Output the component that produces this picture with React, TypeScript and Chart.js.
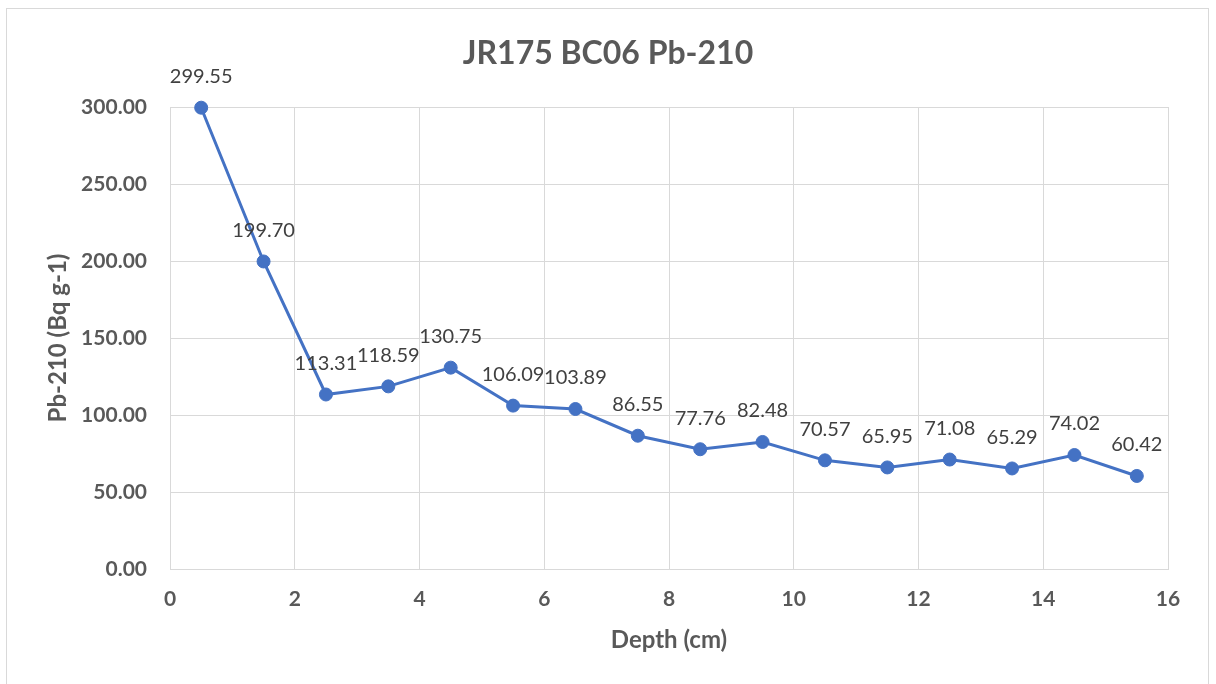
import React, { useEffect, useRef } from "react";
import { Chart, registerables } from "chart.js";

Chart.register(...registerables);

const depths = [0.5, 1.5, 2.5, 3.5, 4.5, 5.5, 6.5, 7.5, 8.5, 9.5, 10.5, 11.5, 12.5, 13.5, 14.5, 15.5];
const pb210 = [299.55, 199.7, 113.31, 118.59, 130.75, 106.09, 103.89, 86.55, 77.76, 82.48, 70.57, 65.95, 71.08, 65.29, 74.02, 60.42];
const chartTitle = "JR175 BC06 Pb-210";
const xTitle = "Depth (cm)";
const yTitle = "Pb-210 (Bq g-1)";

const FONT = "Lato";
const AXIS_COLOR = "#595959";
const GRID = "#d9d9d9";
const LINE = "#4472C4";

const frameAndLabels = {
  id: "frameAndLabels",
  beforeDraw(chart: any) {
    const ctx = chart.ctx;
    ctx.save();
    ctx.fillStyle = "#ffffff";
    ctx.fillRect(0, 0, chart.width, chart.height);
    ctx.strokeStyle = GRID;
    ctx.lineWidth = 1;
    ctx.strokeRect(6.5, 8.5, 1202, 700);
    ctx.restore();
  },
  afterDatasetsDraw(chart: any) {
    const ctx = chart.ctx;
    const meta = chart.getDatasetMeta(0);
    const data = chart.data.datasets[0].data as any[];
    ctx.save();
    ctx.font = `20px ${FONT}`;
    ctx.fillStyle = "#404040";
    ctx.textAlign = "center";
    ctx.textBaseline = "middle";
    meta.data.forEach((el: any, i: number) => {
      const v = data[i].y as number;
      ctx.fillText(v.toFixed(2), el.x, el.y - 31);
    });
    ctx.restore();
  },
};

export default function App() {
  const ref = useRef<HTMLCanvasElement | null>(null);
  useEffect(() => {
    document.body.style.margin = "0";
    const canvas = ref.current;
    if (!canvas) return;
    const chart = new Chart(canvas, {
      type: "scatter",
      data: {
        datasets: [
          {
            label: "Pb-210",
            data: depths.map((d, i) => ({ x: d, y: pb210[i] })),
            showLine: true,
            clip: false,
            borderColor: LINE,
            backgroundColor: LINE,
            borderWidth: 3,
            pointRadius: 6.5,
            pointBorderWidth: 1,
            pointBorderColor: LINE,
            pointBackgroundColor: LINE,
          },
        ],
      },
      options: {
        animation: false,
        responsive: false,
        layout: { padding: { left: 48, right: 48, top: 0, bottom: 0 } },
        plugins: {
          legend: { display: false },
          tooltip: { enabled: false },
          title: {
            display: true,
            text: chartTitle,
            color: AXIS_COLOR,
            font: { family: FONT, size: 32, weight: "bold", lineHeight: 1.2 },
            padding: { top: 34.3, bottom: 34.3 },
          },
        },
        scales: {
          x: {
            type: "linear",
            min: 0,
            max: 16,
            ticks: {
              stepSize: 2,
              color: AXIS_COLOR,
              font: { family: FONT, size: 21, weight: "bold", lineHeight: 1.2 },
              padding: 18,
              maxRotation: 0,
              callback: (v: any) => String(v),
            },
            grid: { color: GRID, lineWidth: 1, drawTicks: false },
            border: { color: GRID, width: 1 },
            title: {
              display: true,
              text: xTitle,
              color: AXIS_COLOR,
              font: { family: FONT, size: 24, weight: "bold", lineHeight: 1.2 },
              padding: { top: 0, bottom: 29.6 },
            },
            afterFit: (scale: any) => {
              scale.height = 115;
            },
          },
          y: {
            type: "linear",
            min: 0,
            max: 300,
            ticks: {
              stepSize: 50,
              color: AXIS_COLOR,
              font: { family: FONT, size: 21, weight: "bold", lineHeight: 1.2 },
              padding: 23,
              callback: (v: any) => Number(v).toFixed(2),
            },
            grid: { color: GRID, lineWidth: 1, drawTicks: false },
            border: { color: GRID, width: 1 },
            title: {
              display: true,
              text: yTitle,
              color: AXIS_COLOR,
              font: { family: FONT, size: 24, weight: "bold", lineHeight: 1 },
              padding: { top: -2, bottom: 0 },
            },
            afterFit: (scale: any) => {
              scale.width = 122;
            },
          },
        },
      },
      plugins: [frameAndLabels],
    });
    return () => chart.destroy();
  }, []);
  return (
    <div style={{ width: 1216, height: 684 }}>
      <canvas ref={ref} width={1216} height={684} style={{ display: "block" }} />
    </div>
  );
}
